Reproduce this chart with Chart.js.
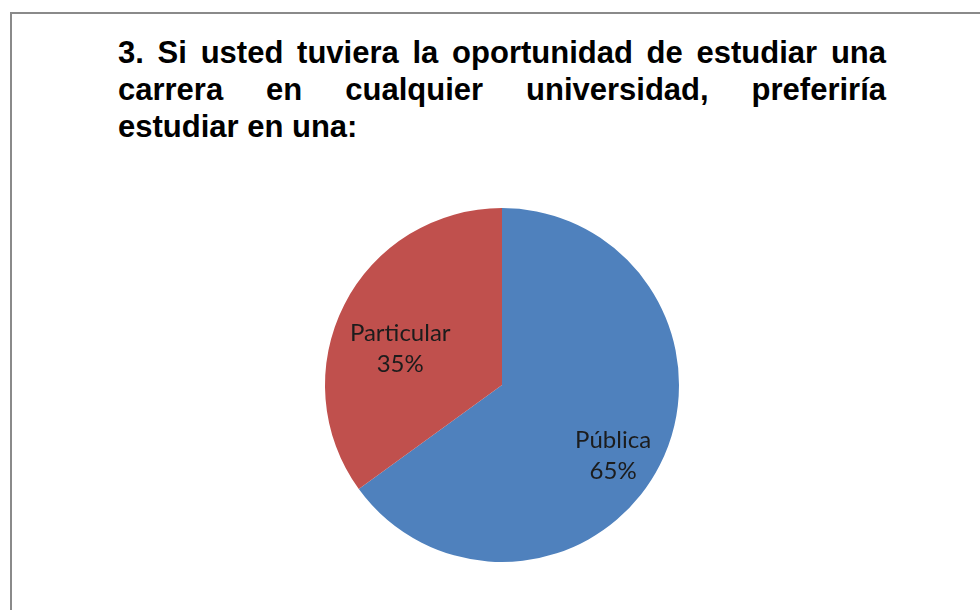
<!DOCTYPE html>
<html lang="es">
  <head>
    <meta charset="UTF-8" />
    <title>Universidad pública o particular</title>
    <script src="https://cdn.jsdelivr.net/npm/chart.js"></script>
    <style>
      html,
      body {
        margin: 0;
        padding: 0;
        background: #fff;
        overflow: hidden;
      }
      .frame {
        position: absolute;
        left: 10px;
        top: 12px;
        width: 1100px;
        height: 700px;
        border: 2px solid #8a8a8a;
      }
      .title {
        position: absolute;
        left: 118px;
        top: 34px;
        width: 768px;
        font-family: "Liberation Sans", Arial, sans-serif;
        font-weight: bold;
        font-size: 31px;
        line-height: 37px;
        color: #000;
      }
      .title .just {
        text-align: justify;
        text-align-last: justify;
      }
      .chart-box {
        position: absolute;
        left: 0;
        top: 0;
        width: 980px;
        height: 610px;
      }
    </style>
  </head>
  <body>
    <div class="frame"></div>
    <div class="title">
      <div class="just">3. Si usted tuviera la oportunidad de estudiar una</div>
      <div class="just">carrera en cualquier universidad, preferiría</div>
      <div>estudiar en una:</div>
    </div>
    <div class="chart-box"><canvas id="chart"></canvas></div>

    <script>
      const categories = ["Pública", "Particular"];
      const percentages = [65, 35];
      const sliceColors = ["#4f81bd", "#c0504d"];

      // draws "name" + "NN%" inside each slice
      const sliceLabels = {
        id: "sliceLabels",
        afterDatasetsDraw(chart, args, opts) {
          const ctx = chart.ctx;
          const meta = chart.getDatasetMeta(0);
          const values = chart.data.datasets[0].data;
          const total = values.reduce((a, b) => a + b, 0);
          ctx.save();
          ctx.font = opts.font;
          ctx.fillStyle = opts.color;
          ctx.textAlign = "center";
          ctx.textBaseline = "middle";
          meta.data.forEach((arc, i) => {
            const p = arc.getProps(["x", "y", "startAngle", "endAngle", "outerRadius"], true);
            const mid = (p.startAngle + p.endAngle) / 2 + (opts.shift[i] * Math.PI) / 180;
            const r = p.outerRadius * opts.radius[i];
            const x = p.x + Math.cos(mid) * r;
            const y = p.y + Math.sin(mid) * r;
            const pct = Math.round((values[i] / total) * 100) + "%";
            ctx.fillText(chart.data.labels[i], x, y - opts.lineHeight / 2);
            ctx.fillText(pct, x, y + opts.lineHeight / 2);
          });
          ctx.restore();
        },
      };

      new Chart(document.getElementById("chart"), {
        type: "pie",
        data: {
          labels: categories,
          datasets: [
            {
              data: percentages,
              backgroundColor: sliceColors,
              borderWidth: 0,
            },
          ],
        },
        options: {
          responsive: true,
          maintainAspectRatio: false,
          animation: false,
          layout: {
            padding: { top: 208, bottom: 48, left: 312, right: 288 },
          },
          plugins: {
            legend: { display: false },
            tooltip: { enabled: false },
            title: { display: false },
            sliceLabels: {
              font: "24px Lato, 'Open Sans', sans-serif",
              color: "#1c1c1c",
              lineHeight: 31,
              radius: [0.745, 0.61],
              shift: [5.6, -7.5],
            },
          },
        },
        plugins: [sliceLabels],
      });
    </script>
  </body>
</html>
